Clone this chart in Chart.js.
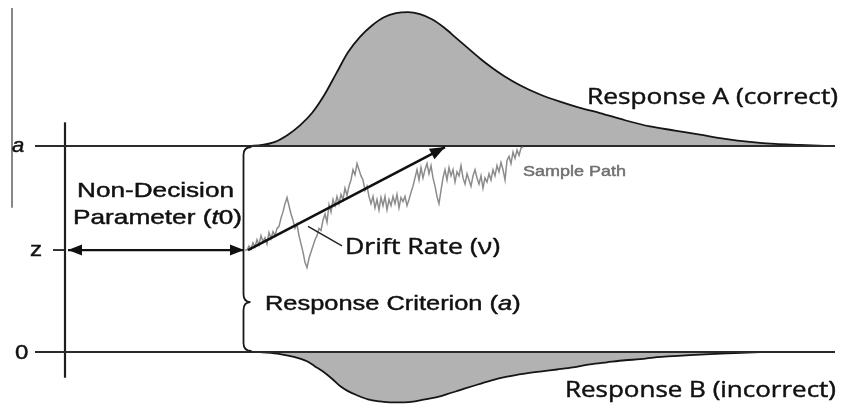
<!DOCTYPE html>
<html>
<head>
<meta charset="utf-8">
<script src="https://cdn.jsdelivr.net/npm/chart.js@4/dist/chart.umd.min.js"></script>
<style>
html,body{margin:0;padding:0;background:#fff;}
#wrap{width:844px;height:405px;}
</style>
</head>
<body>
<div id="wrap"><canvas id="c" width="844" height="405"></canvas></div>
<script>
// ---- model parameters (time in ms, evidence in arbitrary units) ----
const boundaryA = 2.0;          // upper boundary a
const startZ = 0.99;            // starting point z
const nonDecisionT0 = 360;      // t0 (ms)
const boundaryStart = -60;      // where boundary lines begin (ms)
const boundaryEnd = 1540;       // where boundary lines end (ms)

// ---- RT density for Response A (upper boundary), heights above a ----
const upperTimes   = [370,394,420,446,470,494,518,542,566,590,614,638,662,686,710,734,758,782,806,830,854,878,910,950,990,1030,1070,1120,1170,1220,1270,1320,1370,1420,1470,1520];
const upperDensity = [0,0.01,0.04,0.11,0.20,0.32,0.49,0.70,0.91,1.06,1.17,1.25,1.29,1.30,1.28,1.23,1.15,1.05,0.95,0.85,0.76,0.68,0.59,0.50,0.43,0.37,0.32,0.25,0.19,0.15,0.11,0.07,0.04,0.02,0.01,0];

// ---- RT density for Response B (lower boundary), depths below 0 ----
const lowerTimes   = [390,430,460,484,500,516,534,550,566,584,606,630,654,678,700,720,742,764,790,816,850,884,920,950,984,1016,1050,1084,1120,1150,1184,1216,1250,1290,1340,1390];
const lowerDensity = [0,0.02,0.05,0.09,0.14,0.19,0.26,0.33,0.38,0.42,0.46,0.48,0.49,0.49,0.48,0.46,0.44,0.41,0.37,0.33,0.28,0.24,0.21,0.19,0.17,0.15,0.12,0.10,0.08,0.07,0.05,0.04,0.03,0.02,0.01,0];

// ---- sample diffusion path (one value every pathStepMs from t0) ----
const pathStepMs = 4;
const samplePath = [
 0.99,0.99,1.03,1.00,1.06,1.02,1.09,1.04,1.13,1.07,
 1.11,1.05,1.16,1.10,1.17,1.13,1.20,1.22,1.30,1.36,
 1.44,1.50,1.42,1.34,1.28,1.20,1.24,1.13,1.05,0.97,
 0.87,0.82,0.91,0.97,1.03,1.09,1.13,1.20,1.18,1.28,
 1.34,1.26,1.43,1.36,1.48,1.42,1.51,1.44,1.53,1.48,
 1.59,1.52,1.61,1.67,1.77,1.72,1.83,1.77,1.71,1.67,
 1.57,1.61,1.51,1.44,1.51,1.40,1.48,1.38,1.50,1.42,
 1.51,1.38,1.48,1.42,1.51,1.44,1.53,1.40,1.50,1.46,
 1.51,1.42,1.48,1.55,1.61,1.69,1.77,1.67,1.79,1.69,
 1.77,1.83,1.73,1.81,1.69,1.61,1.51,1.44,1.57,1.69,
 1.77,1.67,1.79,1.71,1.77,1.65,1.75,1.71,1.81,1.69,
 1.63,1.73,1.67,1.61,1.71,1.77,1.69,1.63,1.71,1.59,
 1.69,1.65,1.73,1.67,1.77,1.71,1.81,1.75,1.84,1.77,
 1.67,1.86,1.90,1.83,1.94,1.88,1.96,1.91,1.98,1.99
];

// ---- drift-rate arrow and its leader line ----
const driftTimes = [366, 760];
const driftValues = [0.99, 1.99];
const leaderTimes = [486, 554];
const leaderValues = [1.22, 1.03];

// ---- left axis ----
const axisRange = [-0.25, 2.23];
const zTickTimes = [-24, 0];
const zArrowTimes = [6, 358];
const edgeLineTime = -106;
const edgeLineRange = [1.40, 3.34];

// ---- build series ----
const pts = (xs, ys) => xs.map((x, i) => ({x, y: ys[i]}));
const upperPts = upperTimes.map((t, i) => ({x: t, y: boundaryA + upperDensity[i]}));
const lowerPts = lowerTimes.map((t, i) => ({x: t, y: 0 - lowerDensity[i]}));
const pathPts = samplePath.map((v, i) => ({x: nonDecisionT0 + i * pathStepMs, y: v}));

const line = (data, color, width, order, extra) => Object.assign({
  data, showLine: true, borderColor: color, borderWidth: width, pointRadius: 0,
  fill: false, tension: 0, order, clip: false
}, extra || {});

const datasets = [
  line(upperPts, '#151515', 1.8, 10, {fill: {value: boundaryA}, backgroundColor: '#b2b2b2', cubicInterpolationMode: 'monotone'}),
  line(lowerPts, '#151515', 1.8, 10, {fill: {value: 0}, backgroundColor: '#b2b2b2', cubicInterpolationMode: 'monotone'}),
  line(pts([boundaryStart, boundaryEnd], [boundaryA, boundaryA]), '#2b2b2b', 2.2, 5),
  line(pts([boundaryStart, boundaryEnd], [0, 0]), '#2b2b2b', 2.2, 5),
  line(pts([0, 0], axisRange), '#1e1e1e', 2.2, 5),
  line(pts([edgeLineTime, edgeLineTime], edgeLineRange), '#6a6a6a', 1.6, 5),
  line(pts(zTickTimes, [startZ, startZ]), '#1e1e1e', 1.8, 5),
  line(pts(zArrowTimes, [startZ, startZ]), '#111', 2.2, 4),
  line(pathPts, '#8c8c8c', 1.5, 3),
  line(pts(driftTimes, driftValues), '#111', 2.6, 2),
  line(pts(leaderTimes, leaderValues), '#222', 1.5, 2)
];

function arrowHead(ctx, x1, y1, x2, y2, len, half) {
  const a = Math.atan2(y2 - y1, x2 - x1);
  const bx = x2 - len * Math.cos(a), by = y2 - len * Math.sin(a);
  ctx.beginPath();
  ctx.moveTo(x2, y2);
  ctx.lineTo(bx + half * Math.sin(a), by - half * Math.cos(a));
  ctx.lineTo(bx - half * Math.sin(a), by + half * Math.cos(a));
  ctx.closePath();
  ctx.fill();
}

function drawLabel(ctx, segs, x, y, targetW, color, sxFixed) {
  let w = 0;
  segs.forEach(s => { ctx.font = s.font; s.w = ctx.measureText(s.text).width; w += s.w; });
  const sx = targetW ? targetW / w : (sxFixed || 1);
  ctx.save();
  ctx.translate(x, y);
  ctx.scale(sx, 1);
  ctx.fillStyle = color;
  ctx.strokeStyle = color;
  ctx.lineWidth = 0.45;
  ctx.textBaseline = 'alphabetic';
  ctx.textAlign = 'left';
  let cx = 0;
  segs.forEach(s => { ctx.font = s.font; ctx.fillText(s.text, cx, 0); ctx.strokeText(s.text, cx, 0); cx += s.w; });
  ctx.restore();
}

const ARIAL = '"Liberation Sans", Arial, sans-serif';
const OPEN = '"Open Sans", "Noto Sans", sans-serif';

const annot = {
  id: 'annot',
  afterDatasetsDraw(chart) {
    const ctx = chart.ctx, X = chart.scales.x, Y = chart.scales.y;
    const px = t => X.getPixelForValue(t), py = v => Y.getPixelForValue(v);
    ctx.save();
    ctx.fillStyle = '#111';
    // drift arrow head
    arrowHead(ctx, px(driftTimes[0]), py(driftValues[0]), px(driftTimes[1]), py(driftValues[1]), 15, 6);
    // z double arrow heads
    arrowHead(ctx, px(zArrowTimes[1]), py(startZ), px(zArrowTimes[0]), py(startZ), 14, 5.5);
    arrowHead(ctx, px(zArrowTimes[0]), py(startZ), px(zArrowTimes[1]), py(startZ), 14, 5.5);
    // curly brace (response criterion a)
    const bx = px(nonDecisionT0) - 1.5, top = py(boundaryA), bot = py(0), tip = py(boundaryA * 0.2425);
    ctx.strokeStyle = '#1a1a1a'; ctx.lineWidth = 1.8;
    ctx.beginPath();
    ctx.moveTo(bx + 8, top + 1);
    ctx.quadraticCurveTo(bx, top + 1, bx, top + 9);
    ctx.lineTo(bx, tip - 8);
    ctx.quadraticCurveTo(bx, tip, bx + 7, tip);
    ctx.moveTo(bx + 7, tip);
    ctx.quadraticCurveTo(bx, tip, bx, tip + 8);
    ctx.lineTo(bx, bot - 9);
    ctx.quadraticCurveTo(bx, bot - 1, bx + 8, bot - 1);
    ctx.stroke();

    // labels
    drawLabel(ctx, [{text: 'Response A (correct)', font: '22px ' + OPEN}], px(1044), py(2.408), 251, '#111');
    drawLabel(ctx, [{text: 'Response B (incorrect)', font: '21px ' + OPEN}], px(1000), py(-0.437), 271, '#111');
    drawLabel(ctx, [{text: 'Drift Rate (ν)', font: '22px ' + OPEN}], px(560), py(0.951), 155, '#111');
    drawLabel(ctx, [{text: 'Sample Path', font: '14px ' + ARIAL}], px(916), py(1.709), 103, '#707070');
    drawLabel(ctx, [{text: 'Non-Decision', font: '21px ' + ARIAL}], px(24), py(1.505), 157, '#111');
    drawLabel(ctx, [{text: 'Parameter (', font: '21px ' + ARIAL}, {text: 't', font: 'italic 21px ' + ARIAL}, {text: '0)', font: '21px ' + ARIAL}], px(16), py(1.243), 169, '#111');
    drawLabel(ctx, [{text: 'Response Criterion (', font: '21px ' + ARIAL}, {text: 'a', font: 'italic 21px ' + ARIAL}, {text: ')', font: '21px ' + ARIAL}], px(400), py(0.408), null, '#111', 1.21);
    drawLabel(ctx, [{text: 'a', font: 'italic 21px ' + ARIAL}], px(-106), py(1.942), null, '#111', 1.05);
    drawLabel(ctx, [{text: 'z', font: '21px ' + ARIAL}], px(-70), py(0.932), null, '#111', 1.15);
    drawLabel(ctx, [{text: '0', font: '20px ' + ARIAL}], px(-100), py(-0.068), null, '#111', 1.2);
    ctx.restore();
  }
};

new Chart(document.getElementById('c'), {
  type: 'scatter',
  data: {datasets},
  options: {
    responsive: false,
    animation: false,
    layout: {padding: 0},
    scales: {
      x: {type: 'linear', min: -130, max: 1558, display: false},
      y: {type: 'linear', min: -0.5146, max: 3.4175, display: false}
    },
    plugins: {legend: {display: false}, tooltip: {enabled: false}},
    elements: {point: {radius: 0}}
  },
  plugins: [annot]
});
</script>
</body>
</html>
